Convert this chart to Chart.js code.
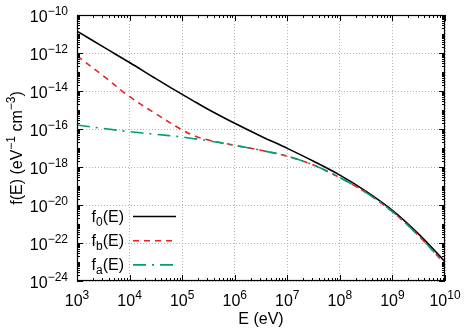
<!DOCTYPE html>
<html>
<head>
<meta charset="utf-8">
<script src="https://cdn.jsdelivr.net/npm/chart.js@4.4.1/dist/chart.umd.min.js"></script>
<style>
  html, body { margin: 0; padding: 0; background: #fff; }
  #wrap { width: 473px; height: 332px; }
</style>
</head>
<body>
<div id="wrap"><canvas id="spectrumChart"></canvas></div>

<script>
  const energy = [1e3, 3.16e3, 1e4, 3.16e4, 1e5, 1.78e5, 3.16e5, 1e6, 3.16e6,
                  1e7, 3.16e7, 1e8, 3.16e8, 1e9, 3.16e9, 1e10];
  // f(E) in eV^-1 cm^-3
  const f0 = [1.41e-11, 2.09e-12, 3.16e-13, 4.47e-14, 6.61e-15, 2.63e-15, 1.07e-15, 2.0e-16, 4.17e-17,
              9.55e-18, 2.0e-18, 3.72e-19, 5.25e-20, 5.25e-21, 2.95e-22, 1.05e-23];
  const fb = [7.08e-13, 6.31e-14, 5.01e-15, 6.31e-16, 8.91e-17, 4.17e-17, 2.63e-17, 1.38e-17, 7.59e-18,
              3.72e-18, 1.26e-18, 2.75e-19, 4.47e-20, 4.47e-21, 2.40e-22, 7.94e-24];
  const fa = [1.62e-16, 1.07e-16, 7.24e-17, 5.25e-17, 3.80e-17, 3.02e-17, 2.40e-17, 1.38e-17, 7.59e-18,
              3.72e-18, 1.26e-18, 2.75e-19, 4.47e-20, 4.47e-21, 2.40e-22, 7.94e-24];

  // labelled ticks
  const xTicks = [1e3, 1e4, 1e5, 1e6, 1e7, 1e8, 1e9, 1e10];
  const xTickExp = ['3', '4', '5', '6', '7', '8', '9', '10'];
  const yTicks = [1e-10, 1e-12, 1e-14, 1e-16, 1e-18, 1e-20, 1e-22, 1e-24];
  const yTickExp = ['−10', '−12', '−14', '−16', '−18', '−20', '−22', '−24'];

  const FONT = '"Liberation Sans", Arial, sans-serif';
  const BIG = 16, SMALL = 12;

  const series = [
    {name: ['f', '0', '(E)'], data: f0, color: '#000000', dash: []},
    {name: ['f', 'b', '(E)'], data: fb, color: '#ee2020', dash: [6, 5]},
    {name: ['f', 'a', '(E)'], data: fa, color: '#009e73', dash: [13, 6, 2, 6]},
  ];

  // draws "10" with a raised exponent
  function power(ctx, exp, x, base, align) {
    ctx.font = BIG + 'px ' + FONT;
    const wb = ctx.measureText('10').width;
    ctx.font = SMALL + 'px ' + FONT;
    const we = ctx.measureText(exp).width;
    const x0 = align === 'center' ? x - (wb + we) / 2 : x - (wb + we);
    ctx.font = BIG + 'px ' + FONT;
    ctx.fillText('10', x0, base);
    ctx.font = SMALL + 'px ' + FONT;
    ctx.fillText(exp, x0 + wb, base - 7);
  }

  // draws runs of [text, size, shift] one after another
  function runs(ctx, parts, x, base, align) {
    let total = 0;
    parts.forEach((p) => {
      ctx.font = p[1] + 'px ' + FONT;
      total += ctx.measureText(p[0]).width;
    });
    let cx = align === 'center' ? x - total / 2 : (align === 'right' ? x - total : x);
    parts.forEach((p) => {
      ctx.font = p[1] + 'px ' + FONT;
      ctx.fillText(p[0], cx, base + p[2]);
      cx += ctx.measureText(p[0]).width;
    });
  }

  const frame = {
    id: 'frame',
    afterDraw(chart) {
      const {ctx, chartArea: a} = chart;
      const x = chart.scales.x, y = chart.scales.y;
      ctx.save();
      ctx.strokeStyle = '#000';
      ctx.fillStyle = '#000';
      ctx.lineWidth = 1;
      ctx.setLineDash([]);

      const vTick = (v, len) => {
        const px = Math.round(x.getPixelForValue(v)) + 0.5;
        ctx.moveTo(px, a.bottom); ctx.lineTo(px, a.bottom - len);
        ctx.moveTo(px, a.top); ctx.lineTo(px, a.top + len);
      };
      const hTick = (v, len) => {
        const py = Math.round(y.getPixelForValue(v)) + 0.5;
        ctx.moveTo(a.left, py); ctx.lineTo(a.left + len, py);
        ctx.moveTo(a.right, py); ctx.lineTo(a.right - len, py);
      };

      ctx.beginPath();
      xTicks.forEach((v) => vTick(v, 6));
      for (let d = 3; d < 10; d++) {
        for (let k = 2; k < 10; k++) vTick(k * Math.pow(10, d), 3);
      }
      yTicks.forEach((v) => hTick(v, 6));
      for (let d = -24; d < -10; d++) {
        for (let k = 1; k < 10; k++) {
          if (k === 1 && d % 2 === 0) continue;
          hTick(k * Math.pow(10, d), 3);
        }
      }
      ctx.stroke();

      // border
      ctx.lineWidth = 1.2;
      ctx.strokeRect(a.left + 0.5, a.top + 0.5, a.width - 1, a.height - 1);

      // tick labels
      ctx.textAlign = 'left';
      ctx.textBaseline = 'alphabetic';
      xTicks.forEach((v, i) => power(ctx, xTickExp[i], x.getPixelForValue(v), a.bottom + 25, 'center'));
      yTicks.forEach((v, i) => power(ctx, yTickExp[i], a.left - 9, y.getPixelForValue(v) + 6.5, 'right'));

      // axis titles
      runs(ctx, [['E (eV)', BIG, 0]], (a.left + a.right) / 2, a.bottom + 43, 'center');
      ctx.save();
      ctx.translate(22, (a.top + a.bottom) / 2);
      ctx.rotate(-Math.PI / 2);
      runs(ctx, [['f(E) (eV', BIG, 0], ['−1', SMALL, -7], [' cm', BIG, 0], ['−3', SMALL, -7], [')', BIG, 0]], 0, 0, 'center');
      ctx.restore();

      // key, bottom left inside the plot
      series.forEach((s, i) => {
        const ly = a.bottom - 64.5 + i * 24.2;
        runs(ctx, [[s.name[0], BIG, 0], [s.name[1], SMALL, 4], [s.name[2], BIG, 0]], a.left + 47, ly + 5.5, 'right');
        ctx.beginPath();
        ctx.strokeStyle = s.color;
        ctx.lineWidth = 1.6;
        ctx.setLineDash(s.dash);
        ctx.moveTo(a.left + 56, ly);
        ctx.lineTo(a.left + 99, ly);
        ctx.stroke();
      });
      ctx.restore();
    }
  };

  const datasets = series.map((s, i) => ({
    label: s.name.join(''),
    data: energy.map((e, j) => ({x: e, y: s.data[j]})),
    borderColor: s.color,
    borderWidth: 1.6,
    borderDash: s.dash,
    pointRadius: 0,
    fill: false,
    tension: 0.35,
    order: 3 - i
  }));

  new Chart('spectrumChart', {
    type: 'line',
    data: {datasets: datasets},
    options: {
      responsive: true,
      maintainAspectRatio: false,
      animation: false,
      devicePixelRatio: 1,
      layout: {padding: {left: 77, right: 28, top: 15, bottom: 51}},
      scales: {
        x: {
          type: 'logarithmic',
          min: 1e3,
          max: 1e10,
          afterBuildTicks: (s) => { s.ticks = xTicks.map((v) => ({value: v})); },
          ticks: {display: false},
          grid: {color: '#b4b4b4', lineWidth: 1, drawTicks: false, tickLength: 0},
          border: {display: false, dash: [1, 2]}
        },
        y: {
          type: 'logarithmic',
          min: 1e-24,
          max: 1e-10,
          afterBuildTicks: (s) => { s.ticks = yTicks.map((v) => ({value: v})); },
          ticks: {display: false},
          grid: {color: '#b4b4b4', lineWidth: 1, drawTicks: false, tickLength: 0},
          border: {display: false, dash: [1, 2]}
        }
      },
      plugins: {
        legend: {display: false},
        tooltip: {enabled: false}
      }
    },
    plugins: [frame]
  });
</script>
</body>
</html>
